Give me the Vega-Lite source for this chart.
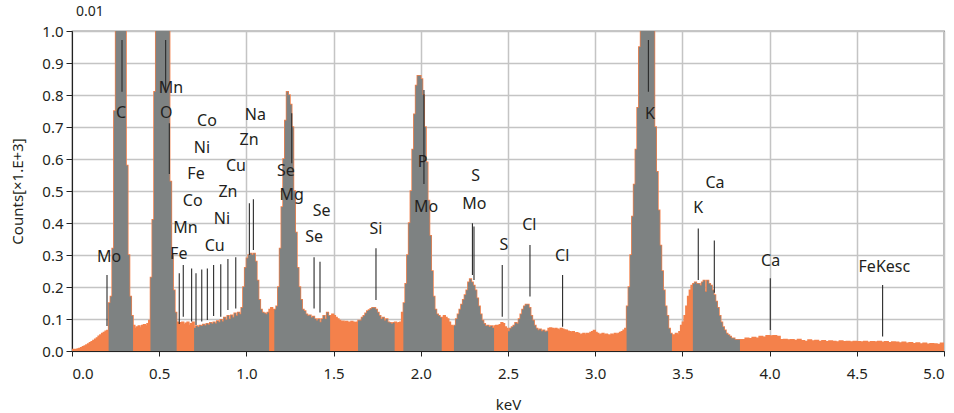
{
"$schema":"https://vega.github.io/schema/vega-lite/v6.json",
"width":872,"height":320,
"autosize":{"type":"none"},
"padding":{"left":72,"top":31,"right":10,"bottom":62},
"background":"white",
"config":{"view":{"stroke":"#222222","strokeWidth":1.2},"font":"Noto Sans",
 "axis":{"labelFont":"Noto Sans","titleFont":"Noto Sans","labelFontSize":15,"titleFontSize":15,"titleFontWeight":"normal","labelColor":"#231F20","titleColor":"#231F20","domainColor":"#222222","tickColor":"#222222","gridColor":"#C4C4C4","gridWidth":1.5,"labelOverlap":false},
 "axisX":{"values":[0,0.5,1,1.5,2,2.5,3,3.5,4,4.5,5],"format":".1f","tickSize":5,"labelPadding":10,"titlePadding":16,"grid":true},
 "axisY":{"values":[0,0.1,0.2,0.3,0.4,0.5,0.6,0.7,0.8,0.9,1],"format":".1f","tickSize":6,"labelPadding":3,"titlePadding":16,"grid":true}},
"title":{"text":"0.01","anchor":"start","frame":"group","fontSize":14,"fontWeight":"normal","color":"#231F20","offset":5,"dx":4,"font":"Noto Sans"},
"datasets":{
"spec":[
{"e":0.00,"c":0.005},{"e":0.01,"c":0.005},{"e":0.02,"c":0.005},{"e":0.03,"c":0.006},{"e":0.04,"c":0.008},{"e":0.05,"c":0.010},{"e":0.06,"c":0.013},{"e":0.07,"c":0.016},{"e":0.08,"c":0.019},{"e":0.09,"c":0.022},{"e":0.10,"c":0.026},{"e":0.11,"c":0.029},{"e":0.12,"c":0.033},{"e":0.13,"c":0.037},{"e":0.14,"c":0.041},{"e":0.15,"c":0.046},{"e":0.16,"c":0.050},{"e":0.17,"c":0.055},{"e":0.18,"c":0.058},{"e":0.19,"c":0.062},{"e":0.20,"c":0.064},
{"e":0.21,"c":0.15,"r":"C"},{"e":0.22,"c":0.17,"r":"C"},{"e":0.23,"c":0.32,"r":"C"},{"e":0.24,"c":0.75,"r":"C"},{"e":0.25,"c":1.2,"r":"C"},{"e":0.26,"c":1.5,"r":"C"},{"e":0.27,"c":1.7,"r":"C"},{"e":0.28,"c":1.7,"r":"C"},{"e":0.29,"c":1.5,"r":"C"},{"e":0.30,"c":1.1,"r":"C"},{"e":0.31,"c":0.58,"r":"C"},{"e":0.32,"c":0.30,"r":"C"},{"e":0.33,"c":0.17,"r":"C"},{"e":0.34,"c":0.11,"r":"C"},{"e":0.35,"c":0.08,"r":"C"},
{"e":0.36,"c":0.07},{"e":0.37,"c":0.075},{"e":0.38,"c":0.078},{"e":0.39,"c":0.072},{"e":0.40,"c":0.08},{"e":0.41,"c":0.082},{"e":0.42,"c":0.078},{"e":0.43,"c":0.085},{"e":0.44,"c":0.095},
{"e":0.45,"c":0.23,"r":"O"},{"e":0.46,"c":0.41,"r":"O"},{"e":0.47,"c":0.81,"r":"O"},{"e":0.48,"c":1.1,"r":"O"},{"e":0.49,"c":1.4,"r":"O"},{"e":0.50,"c":1.6,"r":"O"},{"e":0.51,"c":1.7,"r":"O"},{"e":0.52,"c":1.7,"r":"O"},{"e":0.53,"c":1.6,"r":"O"},{"e":0.54,"c":1.3,"r":"O"},{"e":0.55,"c":1.0,"r":"O"},{"e":0.56,"c":0.53,"r":"O"},{"e":0.57,"c":0.30,"r":"O"},{"e":0.58,"c":0.19,"r":"O"},{"e":0.59,"c":0.12,"r":"O"},{"e":0.60,"c":0.09,"r":"O"},
{"e":0.61,"c":0.085},{"e":0.62,"c":0.088},{"e":0.63,"c":0.09},{"e":0.64,"c":0.082},{"e":0.65,"c":0.087},{"e":0.66,"c":0.09},{"e":0.67,"c":0.08},{"e":0.68,"c":0.085},{"e":0.69,"c":0.09},
{"e":0.70,"c":0.072,"r":"L"},{"e":0.71,"c":0.078,"r":"L"},{"e":0.72,"c":0.075,"r":"L"},{"e":0.73,"c":0.08,"r":"L"},{"e":0.74,"c":0.078,"r":"L"},{"e":0.75,"c":0.083,"r":"L"},{"e":0.76,"c":0.08,"r":"L"},{"e":0.77,"c":0.085,"r":"L"},{"e":0.78,"c":0.082,"r":"L"},{"e":0.79,"c":0.088,"r":"L"},{"e":0.80,"c":0.085,"r":"L"},{"e":0.81,"c":0.09,"r":"L"},{"e":0.82,"c":0.086,"r":"L"},{"e":0.83,"c":0.094,"r":"L"},{"e":0.84,"c":0.09,"r":"L"},{"e":0.85,"c":0.098,"r":"L"},{"e":0.86,"c":0.092,"r":"L"},{"e":0.87,"c":0.105,"r":"L"},{"e":0.88,"c":0.098,"r":"L"},{"e":0.89,"c":0.11,"r":"L"},{"e":0.90,"c":0.10,"r":"L"},{"e":0.91,"c":0.112,"r":"L"},{"e":0.92,"c":0.105,"r":"L"},{"e":0.93,"c":0.118,"r":"L"},{"e":0.94,"c":0.11,"r":"L"},{"e":0.95,"c":0.12,"r":"L"},{"e":0.96,"c":0.115,"r":"L"},{"e":0.97,"c":0.135,"r":"L"},{"e":0.98,"c":0.20,"r":"L"},{"e":0.99,"c":0.26,"r":"L"},{"e":1.00,"c":0.29,"r":"L"},{"e":1.01,"c":0.30,"r":"L"},{"e":1.02,"c":0.305,"r":"L"},{"e":1.03,"c":0.30,"r":"L"},{"e":1.04,"c":0.305,"r":"L"},{"e":1.05,"c":0.28,"r":"L"},{"e":1.06,"c":0.22,"r":"L"},{"e":1.07,"c":0.16,"r":"L"},{"e":1.08,"c":0.13,"r":"L"},{"e":1.09,"c":0.12,"r":"L"},{"e":1.10,"c":0.118,"r":"L"},{"e":1.11,"c":0.115,"r":"L"},{"e":1.12,"c":0.12,"r":"L"},{"e":1.13,"c":0.13,"r":"L"},
{"e":1.14,"c":0.135},{"e":1.15,"c":0.13},
{"e":1.16,"c":0.13,"r":"Mg"},{"e":1.17,"c":0.14,"r":"Mg"},{"e":1.18,"c":0.20,"r":"Mg"},{"e":1.19,"c":0.32,"r":"Mg"},{"e":1.20,"c":0.45,"r":"Mg"},{"e":1.21,"c":0.60,"r":"Mg"},{"e":1.22,"c":0.72,"r":"Mg"},{"e":1.23,"c":0.81,"r":"Mg"},{"e":1.24,"c":0.80,"r":"Mg"},{"e":1.25,"c":0.77,"r":"Mg"},{"e":1.26,"c":0.70,"r":"Mg"},{"e":1.27,"c":0.50,"r":"Mg"},{"e":1.28,"c":0.37,"r":"Mg"},{"e":1.29,"c":0.26,"r":"Mg"},{"e":1.30,"c":0.20,"r":"Mg"},{"e":1.31,"c":0.16,"r":"Mg"},{"e":1.32,"c":0.13,"r":"Mg"},{"e":1.33,"c":0.125,"r":"Mg"},{"e":1.34,"c":0.115,"r":"Mg"},{"e":1.35,"c":0.11,"r":"Mg"},{"e":1.36,"c":0.112,"r":"Mg"},{"e":1.37,"c":0.105,"r":"Mg"},{"e":1.38,"c":0.108,"r":"Mg"},{"e":1.39,"c":0.10,"r":"Mg"},{"e":1.40,"c":0.095,"r":"Mg"},{"e":1.41,"c":0.10,"r":"Mg"},{"e":1.42,"c":0.09,"r":"Mg"},{"e":1.43,"c":0.10,"r":"Mg"},{"e":1.44,"c":0.11,"r":"Mg"},{"e":1.45,"c":0.10,"r":"Mg"},{"e":1.46,"c":0.12,"r":"Mg"},{"e":1.47,"c":0.11,"r":"Mg"},{"e":1.48,"c":0.11,"r":"Mg"},
{"e":1.49,"c":0.115},{"e":1.50,"c":0.11},{"e":1.51,"c":0.105},{"e":1.52,"c":0.10},{"e":1.53,"c":0.095},{"e":1.54,"c":0.092},{"e":1.55,"c":0.093},{"e":1.56,"c":0.09},{"e":1.57,"c":0.092},{"e":1.58,"c":0.09},{"e":1.59,"c":0.09},{"e":1.60,"c":0.092},{"e":1.61,"c":0.09},{"e":1.62,"c":0.088},{"e":1.63,"c":0.09},
{"e":1.64,"c":0.095,"r":"Si"},{"e":1.65,"c":0.095,"r":"Si"},{"e":1.66,"c":0.105,"r":"Si"},{"e":1.67,"c":0.11,"r":"Si"},{"e":1.68,"c":0.118,"r":"Si"},{"e":1.69,"c":0.125,"r":"Si"},{"e":1.70,"c":0.128,"r":"Si"},{"e":1.71,"c":0.132,"r":"Si"},{"e":1.72,"c":0.135,"r":"Si"},{"e":1.73,"c":0.135,"r":"Si"},{"e":1.74,"c":0.13,"r":"Si"},{"e":1.75,"c":0.12,"r":"Si"},{"e":1.76,"c":0.11,"r":"Si"},{"e":1.77,"c":0.10,"r":"Si"},{"e":1.78,"c":0.105,"r":"Si"},{"e":1.79,"c":0.095,"r":"Si"},{"e":1.80,"c":0.10,"r":"Si"},{"e":1.81,"c":0.09,"r":"Si"},{"e":1.82,"c":0.088,"r":"Si"},{"e":1.83,"c":0.085,"r":"Si"},{"e":1.84,"c":0.088,"r":"Si"},{"e":1.85,"c":0.09,"r":"Si"},
{"e":1.86,"c":0.085},{"e":1.87,"c":0.088},{"e":1.88,"c":0.09},{"e":1.89,"c":0.12},
{"e":1.90,"c":0.15,"r":"P"},{"e":1.91,"c":0.21,"r":"P"},{"e":1.92,"c":0.30,"r":"P"},{"e":1.93,"c":0.40,"r":"P"},{"e":1.94,"c":0.50,"r":"P"},{"e":1.95,"c":0.63,"r":"P"},{"e":1.96,"c":0.74,"r":"P"},{"e":1.97,"c":0.83,"r":"P"},{"e":1.98,"c":0.86,"r":"P"},{"e":1.99,"c":0.86,"r":"P"},{"e":2.00,"c":0.85,"r":"P"},{"e":2.01,"c":0.80,"r":"P"},{"e":2.02,"c":0.70,"r":"P"},{"e":2.03,"c":0.59,"r":"P"},{"e":2.04,"c":0.47,"r":"P"},{"e":2.05,"c":0.36,"r":"P"},{"e":2.06,"c":0.25,"r":"P"},{"e":2.07,"c":0.17,"r":"P"},{"e":2.08,"c":0.13,"r":"P"},{"e":2.09,"c":0.115,"r":"P"},{"e":2.10,"c":0.11,"r":"P"},{"e":2.11,"c":0.105,"r":"P"},{"e":2.12,"c":0.105,"r":"P"},
{"e":2.13,"c":0.11},{"e":2.14,"c":0.105},{"e":2.15,"c":0.10},{"e":2.16,"c":0.09},{"e":2.17,"c":0.08},{"e":2.18,"c":0.076},
{"e":2.19,"c":0.08,"r":"S"},{"e":2.20,"c":0.10,"r":"S"},{"e":2.21,"c":0.115,"r":"S"},{"e":2.22,"c":0.13,"r":"S"},{"e":2.23,"c":0.145,"r":"S"},{"e":2.24,"c":0.16,"r":"S"},{"e":2.25,"c":0.175,"r":"S"},{"e":2.26,"c":0.19,"r":"S"},{"e":2.27,"c":0.215,"r":"S"},{"e":2.28,"c":0.225,"r":"S"},{"e":2.29,"c":0.215,"r":"S"},{"e":2.30,"c":0.205,"r":"S"},{"e":2.31,"c":0.19,"r":"S"},{"e":2.32,"c":0.165,"r":"S"},{"e":2.33,"c":0.14,"r":"S"},{"e":2.34,"c":0.115,"r":"S"},{"e":2.35,"c":0.095,"r":"S"},{"e":2.36,"c":0.085,"r":"S"},{"e":2.37,"c":0.078,"r":"S"},{"e":2.38,"c":0.08,"r":"S"},{"e":2.39,"c":0.075,"r":"S"},{"e":2.40,"c":0.078,"r":"S"},{"e":2.41,"c":0.072,"r":"S"},{"e":2.42,"c":0.078,"r":"S"},
{"e":2.43,"c":0.08},{"e":2.44,"c":0.079},{"e":2.45,"c":0.082},{"e":2.46,"c":0.088},{"e":2.47,"c":0.085},{"e":2.48,"c":0.075},{"e":2.49,"c":0.07},
{"e":2.50,"c":0.062,"r":"Cl"},{"e":2.51,"c":0.07,"r":"Cl"},{"e":2.52,"c":0.075,"r":"Cl"},{"e":2.53,"c":0.08,"r":"Cl"},{"e":2.54,"c":0.088,"r":"Cl"},{"e":2.55,"c":0.085,"r":"Cl"},{"e":2.56,"c":0.10,"r":"Cl"},{"e":2.57,"c":0.115,"r":"Cl"},{"e":2.58,"c":0.13,"r":"Cl"},{"e":2.59,"c":0.14,"r":"Cl"},{"e":2.60,"c":0.145,"r":"Cl"},{"e":2.61,"c":0.145,"r":"Cl"},{"e":2.62,"c":0.135,"r":"Cl"},{"e":2.63,"c":0.11,"r":"Cl"},{"e":2.64,"c":0.095,"r":"Cl"},{"e":2.65,"c":0.08,"r":"Cl"},{"e":2.66,"c":0.07,"r":"Cl"},{"e":2.67,"c":0.065,"r":"Cl"},{"e":2.68,"c":0.068,"r":"Cl"},{"e":2.69,"c":0.062,"r":"Cl"},{"e":2.70,"c":0.065,"r":"Cl"},{"e":2.71,"c":0.06,"r":"Cl"},{"e":2.72,"c":0.062,"r":"Cl"},{"e":2.73,"c":0.07,"r":"Cl"},
{"e":2.74,"c":0.072},{"e":2.75,"c":0.07},{"e":2.76,"c":0.068},{"e":2.77,"c":0.07},{"e":2.78,"c":0.068},{"e":2.79,"c":0.065},{"e":2.80,"c":0.07},{"e":2.81,"c":0.068},{"e":2.82,"c":0.066},{"e":2.83,"c":0.065},{"e":2.84,"c":0.062},{"e":2.85,"c":0.06},{"e":2.86,"c":0.058},{"e":2.87,"c":0.06},{"e":2.88,"c":0.055},{"e":2.89,"c":0.057},{"e":2.90,"c":0.055},{"e":2.91,"c":0.05},{"e":2.92,"c":0.052},{"e":2.93,"c":0.055},{"e":2.94,"c":0.05},{"e":2.95,"c":0.055},{"e":2.96,"c":0.053},{"e":2.97,"c":0.058},{"e":2.98,"c":0.06},{"e":2.99,"c":0.064},{"e":3.00,"c":0.058},{"e":3.01,"c":0.055},{"e":3.02,"c":0.05},{"e":3.03,"c":0.052},{"e":3.04,"c":0.055},{"e":3.05,"c":0.05},{"e":3.06,"c":0.052},{"e":3.07,"c":0.05},{"e":3.08,"c":0.048},{"e":3.09,"c":0.052},{"e":3.10,"c":0.05},{"e":3.11,"c":0.055},{"e":3.12,"c":0.05},{"e":3.13,"c":0.055},{"e":3.14,"c":0.058},{"e":3.15,"c":0.06},{"e":3.16,"c":0.065},{"e":3.17,"c":0.07},
{"e":3.18,"c":0.14,"r":"K"},{"e":3.19,"c":0.20,"r":"K"},{"e":3.20,"c":0.30,"r":"K"},{"e":3.21,"c":0.42,"r":"K"},{"e":3.22,"c":0.52,"r":"K"},{"e":3.23,"c":0.63,"r":"K"},{"e":3.24,"c":0.76,"r":"K"},{"e":3.25,"c":0.95,"r":"K"},{"e":3.26,"c":1.2,"r":"K"},{"e":3.27,"c":1.5,"r":"K"},{"e":3.28,"c":1.7,"r":"K"},{"e":3.29,"c":1.8,"r":"K"},{"e":3.30,"c":1.8,"r":"K"},{"e":3.31,"c":1.7,"r":"K"},{"e":3.32,"c":1.5,"r":"K"},{"e":3.33,"c":1.1,"r":"K"},{"e":3.34,"c":0.70,"r":"K"},{"e":3.35,"c":0.56,"r":"K"},{"e":3.36,"c":0.44,"r":"K"},{"e":3.37,"c":0.33,"r":"K"},{"e":3.38,"c":0.25,"r":"K"},{"e":3.39,"c":0.19,"r":"K"},{"e":3.40,"c":0.14,"r":"K"},{"e":3.41,"c":0.11,"r":"K"},{"e":3.42,"c":0.07,"r":"K"},{"e":3.43,"c":0.055,"r":"K"},{"e":3.44,"c":0.05,"r":"K"},
{"e":3.45,"c":0.05},{"e":3.46,"c":0.055},{"e":3.47,"c":0.05},{"e":3.48,"c":0.06},{"e":3.49,"c":0.08},{"e":3.50,"c":0.09},{"e":3.51,"c":0.11},{"e":3.52,"c":0.14},{"e":3.53,"c":0.17},{"e":3.54,"c":0.19},{"e":3.55,"c":0.205},
{"e":3.56,"c":0.21,"r":"Ca"},{"e":3.57,"c":0.215,"r":"Ca"},{"e":3.58,"c":0.21,"r":"Ca"},{"e":3.59,"c":0.21,"r":"Ca"},{"e":3.60,"c":0.205,"r":"Ca"},{"e":3.61,"c":0.215,"r":"Ca"},{"e":3.62,"c":0.22,"r":"Ca"},{"e":3.63,"c":0.185,"r":"Ca"},{"e":3.64,"c":0.22,"r":"Ca"},{"e":3.65,"c":0.21,"r":"Ca"},{"e":3.66,"c":0.205,"r":"Ca"},{"e":3.67,"c":0.19,"r":"Ca"},{"e":3.68,"c":0.175,"r":"Ca"},{"e":3.69,"c":0.155,"r":"Ca"},{"e":3.70,"c":0.135,"r":"Ca"},{"e":3.71,"c":0.11,"r":"Ca"},{"e":3.72,"c":0.09,"r":"Ca"},{"e":3.73,"c":0.075,"r":"Ca"},{"e":3.74,"c":0.065,"r":"Ca"},{"e":3.75,"c":0.055,"r":"Ca"},{"e":3.76,"c":0.05,"r":"Ca"},{"e":3.77,"c":0.045,"r":"Ca"},{"e":3.78,"c":0.04,"r":"Ca"},{"e":3.79,"c":0.04,"r":"Ca"},{"e":3.80,"c":0.035,"r":"Ca"},{"e":3.81,"c":0.035,"r":"Ca"},{"e":3.82,"c":0.035,"r":"Ca"},{"e":3.83,"c":0.035,"r":"Ca"},
{"e":3.84,"c":0.035},{"e":3.86,"c":0.04},{"e":3.88,"c":0.038},{"e":3.90,"c":0.042},{"e":3.92,"c":0.04},{"e":3.94,"c":0.045},{"e":3.96,"c":0.043},{"e":3.98,"c":0.048},{"e":4.00,"c":0.047},{"e":4.02,"c":0.048},{"e":4.04,"c":0.045},{"e":4.06,"c":0.035},{"e":4.08,"c":0.036},{"e":4.10,"c":0.034},{"e":4.12,"c":0.035},{"e":4.14,"c":0.033},{"e":4.16,"c":0.036},{"e":4.18,"c":0.032},{"e":4.20,"c":0.03},{"e":4.22,"c":0.034},{"e":4.24,"c":0.031},{"e":4.26,"c":0.033},{"e":4.28,"c":0.03},{"e":4.30,"c":0.032},{"e":4.32,"c":0.029},{"e":4.34,"c":0.031},{"e":4.36,"c":0.03},{"e":4.38,"c":0.028},{"e":4.40,"c":0.031},{"e":4.42,"c":0.029},{"e":4.44,"c":0.03},{"e":4.46,"c":0.028},{"e":4.48,"c":0.03},{"e":4.50,"c":0.029},{"e":4.52,"c":0.028},{"e":4.54,"c":0.03},{"e":4.56,"c":0.027},{"e":4.58,"c":0.029},{"e":4.60,"c":0.028},{"e":4.62,"c":0.03},{"e":4.64,"c":0.027},{"e":4.66,"c":0.029},{"e":4.68,"c":0.026},{"e":4.70,"c":0.028},{"e":4.72,"c":0.027},{"e":4.74,"c":0.025},{"e":4.76,"c":0.027},{"e":4.78,"c":0.024},{"e":4.80,"c":0.026},{"e":4.82,"c":0.023},{"e":4.84,"c":0.025},{"e":4.86,"c":0.022},{"e":4.88,"c":0.024},{"e":4.90,"c":0.021},{"e":4.92,"c":0.023},{"e":4.94,"c":0.022},{"e":4.96,"c":0.02},{"e":4.98,"c":0.024},{"e":5.00,"c":0.024}
],
"lines":[
{"e":0.2007,"y1":0.2375,"y2":0.078},{"e":0.2867,"y1":0.972,"y2":0.81},{"e":0.537,"y1":0.972,"y2":0.81},{"e":0.558,"y1":0.7115,"y2":0.553},
{"e":0.615,"y1":0.243,"y2":0.084},{"e":0.638,"y1":0.269,"y2":0.107},{"e":0.686,"y1":0.258,"y2":0.092},{"e":0.711,"y1":0.243,"y2":0.081},{"e":0.744,"y1":0.255,"y2":0.092},{"e":0.776,"y1":0.258,"y2":0.097},{"e":0.812,"y1":0.269,"y2":0.109},{"e":0.853,"y1":0.271,"y2":0.107},{"e":0.894,"y1":0.2875,"y2":0.128},{"e":0.939,"y1":0.293,"y2":0.133},
{"e":1.017,"y1":0.4615,"y2":0.30},{"e":1.04,"y1":0.474,"y2":0.316},{"e":1.26,"y1":0.743,"y2":0.5865},{"e":1.388,"y1":0.293,"y2":0.133},{"e":1.422,"y1":0.279,"y2":0.12},{"e":1.743,"y1":0.321,"y2":0.159},{"e":2.018,"y1":0.816,"y2":0.522},
{"e":2.296,"y1":0.399,"y2":0.2375},{"e":2.305,"y1":0.389,"y2":0.222},{"e":2.467,"y1":0.269,"y2":0.107},{"e":2.626,"y1":0.331,"y2":0.17},{"e":2.813,"y1":0.2375,"y2":0.076},
{"e":3.305,"y1":0.972,"y2":0.81},{"e":3.591,"y1":0.383,"y2":0.222},{"e":3.683,"y1":0.345,"y2":0.182},{"e":4.004,"y1":0.227,"y2":0.066},{"e":4.648,"y1":0.206,"y2":0.045}
],
"labels":[
{"t":"Mo","e":0.212,"y":0.294},{"t":"C","e":0.281,"y":0.744},{"t":"Mn","e":0.567,"y":0.823},{"t":"O","e":0.541,"y":0.744},{"t":"Co","e":0.774,"y":0.72},{"t":"Ni","e":0.745,"y":0.633},{"t":"Fe","e":0.711,"y":0.553},{"t":"Co","e":0.692,"y":0.47},{"t":"Mn","e":0.65,"y":0.383},{"t":"Fe","e":0.612,"y":0.302},{"t":"Cu","e":0.818,"y":0.329},{"t":"Ni","e":0.86,"y":0.411},{"t":"Zn","e":0.894,"y":0.498},{"t":"Cu","e":0.94,"y":0.579},{"t":"Zn","e":1.015,"y":0.659},{"t":"Na","e":1.051,"y":0.738},
{"t":"Se","e":1.227,"y":0.564},{"t":"Mg","e":1.26,"y":0.4875},{"t":"Se","e":1.432,"y":0.438},{"t":"Se","e":1.388,"y":0.357},{"t":"Si","e":1.743,"y":0.38},{"t":"P","e":2.011,"y":0.592},{"t":"Mo","e":2.03,"y":0.449},{"t":"S","e":2.315,"y":0.547},{"t":"Mo","e":2.307,"y":0.459},{"t":"S","e":2.477,"y":0.331},{"t":"Cl","e":2.622,"y":0.394},{"t":"Cl","e":2.811,"y":0.297},
{"t":"K","e":3.314,"y":0.741},{"t":"K","e":3.591,"y":0.446},{"t":"Ca","e":3.687,"y":0.526},{"t":"Ca","e":4.006,"y":0.282},{"t":"FeKesc","e":4.658,"y":0.263}
]
},
"layer":[
{"data":{"name":"spec"},
 "mark":{"type":"area","interpolate":"step-after","fill":"#F4814B","stroke":"#F4814B","strokeWidth":1.5,"clip":true},
 "encoding":{
  "x":{"field":"e","type":"quantitative","scale":{"domain":[0,5],"nice":false,"zero":false},"title":"keV","axis":{"values":[0,0.5,1,1.5,2,2.5,3,3.5,4,4.5,5]}},
  "y":{"field":"c","type":"quantitative","stack":null,"scale":{"domain":[0,1],"nice":false},"title":"Counts[×1.E+3]","axis":{"values":[0,0.1,0.2,0.3,0.4,0.5,0.6,0.7,0.8,0.9,1]}}}},
{"data":{"name":"spec"},"transform":[{"filter":"isValid(datum.r)"}],
 "mark":{"type":"area","interpolate":"step-after","fill":"#7E8282","clip":true},
 "encoding":{"x":{"field":"e","type":"quantitative","title":"keV","axis":{"values":[0,0.5,1,1.5,2,2.5,3,3.5,4,4.5,5]}},"y":{"field":"c","type":"quantitative","stack":null,"title":"Counts[×1.E+3]","axis":{"values":[0,0.1,0.2,0.3,0.4,0.5,0.6,0.7,0.8,0.9,1]}},"detail":{"field":"r","type":"nominal"}}},
{"data":{"name":"lines"},
 "mark":{"type":"rule","color":"#2A2A2A","strokeWidth":1.1},
 "encoding":{"x":{"field":"e","type":"quantitative","title":"keV","axis":{"values":[0,0.5,1,1.5,2,2.5,3,3.5,4,4.5,5]}},"y":{"field":"y1","type":"quantitative","title":"Counts[×1.E+3]","axis":{"values":[0,0.1,0.2,0.3,0.4,0.5,0.6,0.7,0.8,0.9,1]}},"y2":{"field":"y2"}}},
{"data":{"name":"labels"},
 "mark":{"type":"text","fontSize":16,"color":"#231F20","font":"Noto Sans","align":"center","baseline":"middle"},
 "encoding":{"x":{"field":"e","type":"quantitative","title":"keV","axis":{"values":[0,0.5,1,1.5,2,2.5,3,3.5,4,4.5,5]}},"y":{"field":"y","type":"quantitative","title":"Counts[×1.E+3]","axis":{"values":[0,0.1,0.2,0.3,0.4,0.5,0.6,0.7,0.8,0.9,1]}},"text":{"field":"t"}}}
]
}
